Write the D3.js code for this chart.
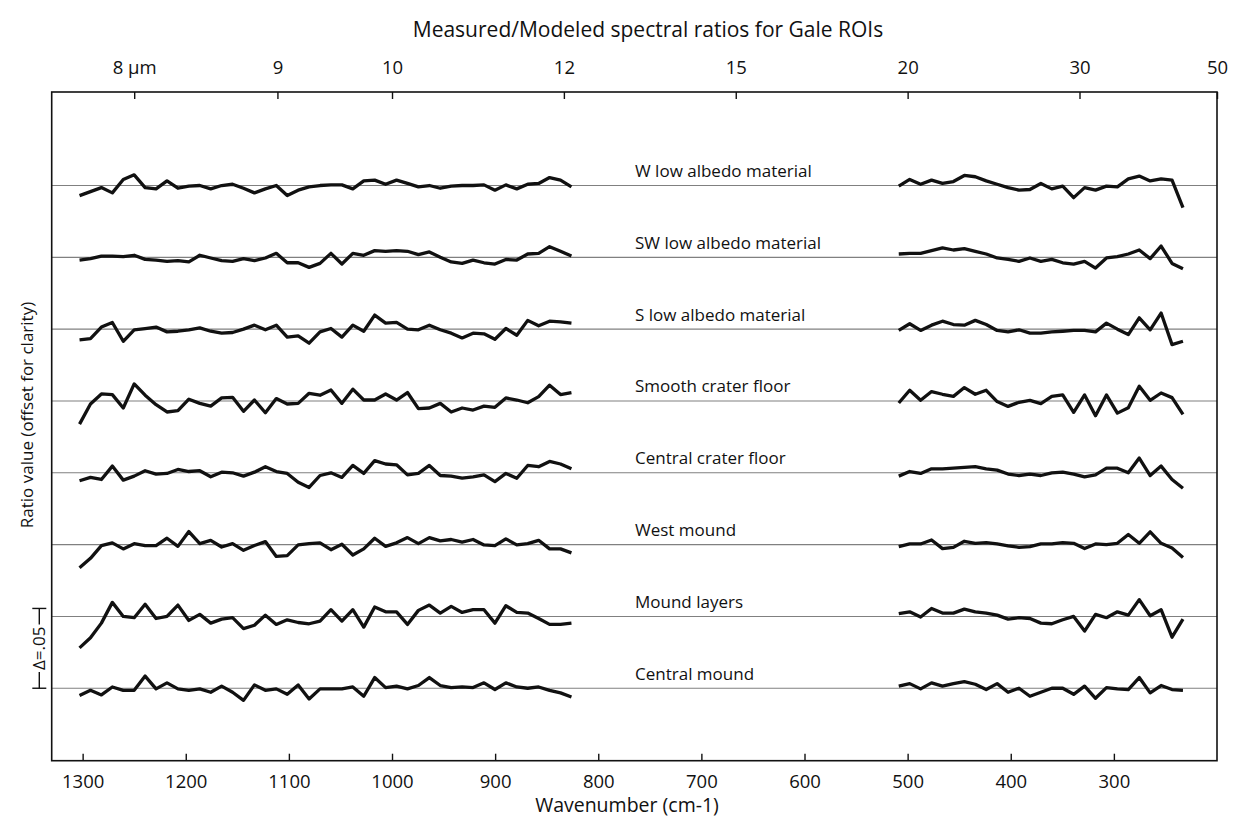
<!DOCTYPE html>
<html>
<head>
<meta charset="utf-8">
<script src="https://cdn.jsdelivr.net/npm/d3@7"></script>
<style>
    body { margin: 0; background: #fff; }
    svg text { font-family: 'Open Sans', sans-serif; fill: #111; }
</style>
</head>
<body>
<div id="chart"></div>
<script>
// wavenumbers (cm-1) of the sampled points, two spectral windows
var leftWavenumbers = [1303.0, 1292.4, 1281.8, 1271.2, 1260.6, 1250.0, 1239.4, 1228.8, 1218.2, 1207.6,
    1197.0, 1186.4, 1175.8, 1165.2, 1154.6, 1144.0, 1133.4, 1122.8, 1112.2, 1101.6,
    1091.0, 1080.4, 1069.8, 1059.2, 1048.6, 1038.0, 1027.4, 1016.8, 1006.2, 995.6,
    985.0, 974.4, 963.8, 953.2, 942.6, 932.0, 921.4, 910.8, 900.2, 889.6,
    879.0, 868.4, 857.8, 847.2, 836.6, 826.0];
var rightWavenumbers = [508.6, 498.0, 487.4, 476.8, 466.2, 455.6, 445.0, 434.4, 423.8, 413.2,
    402.6, 392.0, 381.4, 370.8, 360.2, 349.6, 339.0, 328.4, 317.8, 307.2,
    296.6, 286.0, 275.4, 264.8, 254.2, 243.6, 233.0];

var seriesNames = ["W low albedo material", "SW low albedo material", "S low albedo material",
    "Smooth crater floor", "Central crater floor", "West mound", "Mound layers", "Central mound"];

// measured/modeled ratios, left window
var wLowLeft = [0.9937, 0.9962, 0.9987, 0.9954, 1.0038, 1.0067, 0.9987, 0.9979, 1.0029, 0.9983, 0.9996, 1.0000, 0.9979, 1.0000, 1.0008, 0.9983, 0.9954, 0.9979, 1.0000, 0.9937, 0.9971, 0.9992, 1.0000, 1.0004, 1.0004, 0.9979, 1.0029, 1.0034, 1.0008, 1.0034, 1.0013, 0.9992, 1.0000, 0.9983, 0.9996, 1.0000, 1.0000, 1.0004, 0.9971, 1.0004, 0.9979, 1.0008, 1.0013, 1.0050, 1.0034, 0.9992];
var swLowLeft = [0.9983, 0.9992, 1.0008, 1.0008, 1.0004, 1.0013, 0.9987, 0.9983, 0.9975, 0.9979, 0.9971, 1.0013, 0.9996, 0.9979, 0.9975, 0.9992, 0.9979, 0.9996, 1.0025, 0.9966, 0.9966, 0.9937, 0.9962, 1.0025, 0.9958, 1.0025, 1.0013, 1.0042, 1.0038, 1.0042, 1.0038, 1.0017, 1.0034, 1.0000, 0.9971, 0.9962, 0.9983, 0.9966, 0.9958, 0.9987, 0.9983, 1.0021, 1.0025, 1.0067, 1.0038, 1.0008];
var sLowLeft = [0.9933, 0.9941, 1.0013, 1.0042, 0.9924, 0.9996, 1.0004, 1.0013, 0.9983, 0.9987, 0.9996, 1.0008, 0.9987, 0.9975, 0.9979, 1.0000, 1.0025, 0.9996, 1.0025, 0.9950, 0.9958, 0.9912, 0.9983, 1.0004, 0.9950, 1.0025, 0.9987, 1.0088, 1.0038, 1.0042, 1.0000, 0.9996, 1.0025, 0.9996, 0.9975, 0.9945, 0.9975, 0.9971, 0.9937, 1.0004, 0.9962, 1.0055, 1.0021, 1.0050, 1.0046, 1.0038];
var smoothLeft = [0.9855, 0.9981, 1.0044, 1.0040, 0.9956, 1.0107, 1.0036, 0.9977, 0.9931, 0.9939, 1.0011, 0.9985, 0.9968, 1.0019, 1.0023, 0.9935, 1.0006, 0.9926, 1.0015, 0.9981, 0.9985, 1.0048, 1.0036, 1.0069, 0.9985, 1.0074, 1.0006, 1.0006, 1.0044, 1.0006, 1.0053, 0.9952, 0.9956, 0.9985, 0.9931, 0.9956, 0.9943, 0.9968, 0.9960, 1.0019, 1.0006, 0.9989, 1.0027, 1.0099, 1.0040, 1.0053];
var centralFloorLeft = [0.9950, 0.9971, 0.9958, 1.0042, 0.9954, 0.9979, 1.0013, 0.9992, 0.9996, 1.0021, 1.0008, 1.0013, 0.9975, 1.0004, 1.0000, 0.9979, 1.0004, 1.0038, 1.0008, 0.9996, 0.9941, 0.9908, 0.9983, 1.0000, 0.9971, 1.0046, 0.9996, 1.0076, 1.0055, 1.0050, 0.9987, 0.9996, 1.0046, 0.9983, 0.9979, 0.9966, 0.9975, 0.9987, 0.9945, 0.9996, 0.9966, 1.0046, 1.0038, 1.0071, 1.0055, 1.0025];
var westLeft = [0.9855, 0.9914, 0.9994, 1.0011, 0.9973, 1.0006, 0.9994, 0.9994, 1.0040, 0.9989, 1.0082, 1.0006, 1.0027, 0.9985, 1.0006, 0.9964, 0.9994, 1.0019, 0.9926, 0.9931, 0.9998, 1.0006, 1.0011, 0.9968, 1.0002, 0.9935, 0.9973, 1.0040, 0.9989, 1.0011, 1.0044, 1.0006, 1.0044, 1.0023, 1.0032, 1.0015, 1.0032, 0.9998, 0.9994, 1.0036, 0.9998, 1.0006, 1.0027, 0.9973, 0.9973, 0.9948];
var layersLeft = [0.9803, 0.9866, 0.9958, 1.0088, 1.0000, 0.9992, 1.0076, 0.9987, 1.0000, 1.0071, 0.9975, 1.0013, 0.9958, 0.9983, 0.9992, 0.9924, 0.9945, 1.0008, 0.9950, 0.9979, 0.9962, 0.9954, 0.9971, 1.0042, 0.9971, 1.0042, 0.9933, 1.0059, 1.0029, 1.0029, 0.9950, 1.0038, 1.0071, 1.0021, 1.0063, 1.0025, 1.0042, 1.0042, 0.9958, 1.0067, 1.0025, 1.0021, 0.9987, 0.9950, 0.9950, 0.9958];
var centralMoundLeft = [0.9954, 0.9987, 0.9958, 1.0008, 0.9987, 0.9987, 1.0076, 0.9996, 1.0034, 0.9996, 0.9987, 0.9996, 0.9975, 1.0013, 0.9975, 0.9924, 1.0021, 0.9987, 0.9996, 0.9962, 1.0021, 0.9933, 0.9996, 0.9996, 0.9996, 1.0008, 0.9950, 1.0067, 1.0004, 1.0013, 0.9996, 1.0017, 1.0067, 1.0017, 1.0004, 1.0008, 1.0004, 1.0034, 0.9992, 1.0034, 1.0008, 1.0000, 1.0008, 0.9987, 0.9971, 0.9945];

// measured/modeled ratios, right window
var wLowRight = [0.9996, 1.0038, 1.0008, 1.0034, 1.0013, 1.0025, 1.0063, 1.0055, 1.0029, 1.0008, 0.9987, 0.9971, 0.9975, 1.0013, 0.9979, 0.9996, 0.9924, 0.9987, 0.9971, 0.9996, 0.9992, 1.0042, 1.0059, 1.0029, 1.0042, 1.0034, 0.9861];
var swLowRight = [1.0021, 1.0025, 1.0025, 1.0042, 1.0059, 1.0046, 1.0055, 1.0038, 1.0021, 0.9996, 0.9987, 0.9975, 0.9996, 0.9975, 0.9987, 0.9966, 0.9958, 0.9975, 0.9933, 0.9996, 1.0004, 1.0021, 1.0046, 0.9992, 1.0071, 0.9962, 0.9929];
var sLowRight = [0.9992, 1.0034, 0.9992, 1.0025, 1.0050, 1.0029, 1.0025, 1.0055, 1.0029, 0.9992, 0.9983, 0.9996, 0.9975, 0.9975, 0.9983, 0.9987, 0.9992, 0.9992, 0.9983, 1.0038, 1.0000, 0.9966, 1.0071, 0.9996, 1.0101, 0.9903, 0.9924];
var smoothRight = [0.9987, 1.0067, 1.0004, 1.0059, 1.0042, 1.0029, 1.0084, 1.0042, 1.0067, 0.9996, 0.9966, 0.9992, 1.0004, 0.9983, 1.0029, 1.0038, 0.9929, 1.0038, 0.9908, 1.0038, 0.9924, 0.9958, 1.0092, 1.0004, 1.0050, 1.0021, 0.9916];
var centralFloorRight = [0.9979, 1.0008, 0.9996, 1.0025, 1.0025, 1.0029, 1.0034, 1.0038, 1.0025, 1.0017, 0.9992, 0.9983, 0.9992, 0.9983, 1.0000, 1.0004, 0.9992, 0.9975, 0.9987, 1.0029, 1.0029, 1.0000, 1.0092, 0.9983, 1.0042, 0.9958, 0.9903];
var westRight = [0.9987, 1.0004, 1.0004, 1.0029, 0.9975, 0.9983, 1.0021, 1.0008, 1.0013, 1.0004, 0.9992, 0.9983, 0.9987, 1.0004, 1.0004, 1.0013, 1.0008, 0.9975, 1.0004, 1.0000, 1.0008, 1.0063, 1.0008, 1.0080, 1.0008, 0.9979, 0.9920];
var layersRight = [1.0017, 1.0029, 0.9996, 1.0050, 1.0021, 1.0021, 1.0046, 1.0029, 1.0021, 1.0008, 0.9983, 0.9992, 0.9987, 0.9958, 0.9954, 0.9979, 1.0000, 0.9908, 1.0013, 0.9992, 1.0029, 1.0008, 1.0105, 1.0004, 1.0042, 0.9870, 0.9983];
var centralMoundRight = [1.0013, 1.0029, 0.9996, 1.0034, 1.0013, 1.0029, 1.0042, 1.0025, 0.9992, 1.0029, 0.9975, 1.0000, 0.9950, 0.9975, 1.0000, 1.0000, 0.9962, 1.0013, 0.9937, 1.0004, 0.9996, 0.9992, 1.0067, 0.9971, 1.0017, 0.9992, 0.9987];

// axis ticks
var wavenumberTicks = [1300, 1200, 1100, 1000, 900, 800, 700, 600, 500, 400, 300];
var wavelengthTicks = [8, 9, 10, 12, 15, 20, 30, 50];
var wavelengthLabels = ["8 \u03bcm", "9", "10", "12", "15", "20", "30", "50"];

function init(){
    var w = 1233;
    var h = 821;
    var offsetStep = 0.045;   // vertical offset between spectra
    var scaleBar = 0.05;

    var leftSeries = [wLowLeft, swLowLeft, sLowLeft, smoothLeft, centralFloorLeft, westLeft, layersLeft, centralMoundLeft];
    var rightSeries = [wLowRight, swLowRight, sLowRight, smoothRight, centralFloorRight, westRight, layersRight, centralMoundRight];

    // wavenumber runs right to left
    var xScale = d3.scaleLinear()
                    .domain([1330, 200])
                    .range([51.7, 1217]);

    var yScale = d3.scaleLinear()
                    .domain([0.6396, 1.0586])
                    .range([760.7, 92]);

    var svg = d3.select('#chart')
                .append('svg')
                .attr('width', w)
                .attr('height', h);

    // title
    svg.append('text')
        .attr('x', 648)
        .attr('y', 37)
        .attr('text-anchor', 'middle')
        .style('font-size', '21px')
        .text('Measured/Modeled spectral ratios for Gale ROIs');

    // gray baselines at ratio = 1 for each spectrum
    svg.selectAll('line.baseline')
        .data(seriesNames)
        .enter()
        .append('line')
        .attr('class', 'baseline')
        .attr('x1', xScale.range()[0])
        .attr('x2', xScale.range()[1])
        .attr('y1', function(d, i){ return yScale(1 - i * offsetStep); })
        .attr('y2', function(d, i){ return yScale(1 - i * offsetStep); })
        .attr('stroke', '#808080')
        .attr('stroke-width', 1.1);

    // series labels
    svg.selectAll('text.name')
        .data(seriesNames)
        .enter()
        .append('text')
        .attr('class', 'name')
        .attr('x', 635)
        .attr('y', function(d, i){ return yScale(1 - i * offsetStep) - 8.5; })
        .style('font-size', '17px')
        .text(function(d){ return d; });

    // spectra, each window drawn as its own path
    var line = d3.line()
                .x(function(d){ return xScale(d.wn); })
                .y(function(d){ return yScale(d.v - d.k * offsetStep); });

    function drawWindow(wavenumbers, seriesList){
        svg.append('g')
            .selectAll('path')
            .data(seriesList)
            .enter()
            .append('path')
            .attr('fill', 'none')
            .attr('stroke', '#111')
            .attr('stroke-width', 3.3)
            .attr('stroke-linejoin', 'round')
            .attr('d', function(vals, k){
                return line(vals.map(function(v, i){
                    return {wn: wavenumbers[i], v: v, k: k};
                }));
            });
    }
    drawWindow(leftWavenumbers, leftSeries);
    drawWindow(rightWavenumbers, rightSeries);

    // bottom axis, ticks point inward
    var bottomAxis = d3.axisBottom(xScale)
                        .tickValues(wavenumberTicks)
                        .tickFormat(d3.format('d'))
                        .tickSize(-7)
                        .tickPadding(14);
    var gb = svg.append('g')
        .attr('transform', 'translate(0,' + yScale.range()[0] + ')')
        .call(bottomAxis);
    gb.select('.domain').remove();
    gb.selectAll('.tick line').attr('stroke', '#111').attr('stroke-width', 1.4);
    gb.selectAll('.tick text')
        .style('font-family', "'Open Sans', sans-serif")
        .style('font-size', '18.5px')
        .attr('fill', '#111');

    // top axis in wavelength (um), placed at 10000/um
    var topAxis = d3.axisTop(xScale)
                    .tickValues(wavelengthTicks.map(function(um){ return 10000 / um; }))
                    .tickFormat(function(d, i){ return wavelengthLabels[i]; })
                    .tickSize(-7)
                    .tickPadding(18);
    var gt = svg.append('g')
        .attr('transform', 'translate(0,' + yScale.range()[1] + ')')
        .call(topAxis);
    gt.select('.domain').remove();
    gt.selectAll('.tick line').attr('stroke', '#111').attr('stroke-width', 1.4);
    gt.selectAll('.tick text')
        .style('font-family', "'Open Sans', sans-serif")
        .style('font-size', '18.5px')
        .attr('fill', '#111');

    // frame
    svg.append('rect')
        .attr('x', xScale.range()[0])
        .attr('y', yScale.range()[1])
        .attr('width', xScale.range()[1] - xScale.range()[0])
        .attr('height', yScale.range()[0] - yScale.range()[1])
        .attr('fill', 'none')
        .attr('stroke', '#111')
        .attr('stroke-width', 1.6);

    // axis titles
    svg.append('text')
        .attr('x', 627)
        .attr('y', 812)
        .attr('text-anchor', 'middle')
        .style('font-size', '19.5px')
        .text('Wavenumber (cm-1)');

    svg.append('text')
        .attr('transform', 'translate(33,415) rotate(-90)')
        .attr('text-anchor', 'middle')
        .style('font-size', '17px')
        .text('Ratio value (offset for clarity)');

    // scale bar for delta = .05, anchored on the lowest baseline
    var barBase = 1 - (seriesNames.length - 1) * offsetStep;
    var yBottom = yScale(barBase);
    var yTop = yScale(barBase + scaleBar);
    var yMid = (yBottom + yTop) / 2;
    var barX = 39.3;

    var barLabel = svg.append('text')
        .attr('transform', 'translate(45,' + yMid + ') rotate(-90)')
        .attr('text-anchor', 'middle')
        .style('font-size', '17px')
        .text('\u0394=.05');
    var half = barLabel.node().getComputedTextLength() / 2 + 2;

    var bar = svg.append('g')
        .attr('stroke', '#111')
        .attr('stroke-width', 1.4);
    bar.append('line').attr('x1', barX).attr('x2', barX).attr('y1', yTop).attr('y2', yMid - half);
    bar.append('line').attr('x1', barX).attr('x2', barX).attr('y1', yMid + half).attr('y2', yBottom);
    bar.append('line').attr('x1', barX - 7).attr('x2', barX + 7).attr('y1', yTop).attr('y2', yTop);
    bar.append('line').attr('x1', barX - 7).attr('x2', barX + 7).attr('y1', yBottom).attr('y2', yBottom);
}

window.onload = init;
</script>
</body>
</html>
